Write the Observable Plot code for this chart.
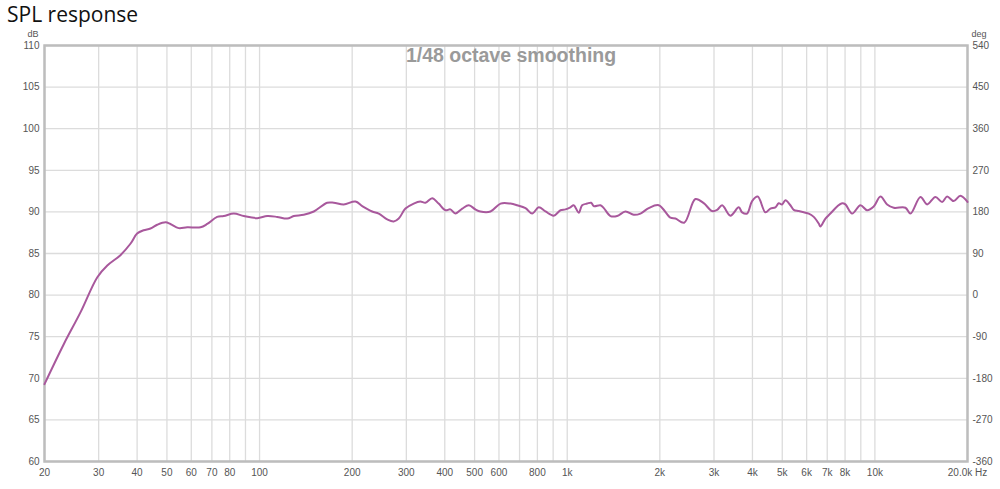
<!DOCTYPE html>
<html>
<head>
<meta charset="utf-8">
<script src="https://cdn.jsdelivr.net/npm/d3@7"></script>
<script src="https://cdn.jsdelivr.net/npm/@observablehq/plot@0.6"></script>
<style>
  body { margin: 0; background: #fff; }
  #title { font-family: "Open Sans", "Liberation Sans", sans-serif; font-size: 21px; color: #111; height: 28px; line-height: 28px; padding-left: 7px; }
  svg { display: block; }
</style>
</head>
<body>
<div id="title">SPL response</div>
<div id="chart"></div>
<script>
const freqHz = [20, 23.1, 26.2, 29.7, 32, 35.3, 38.1, 40, 42, 44.2, 46.5, 49.5, 51.3, 54.6, 58.2, 64.3, 67.6, 72.8, 76.5, 82.5, 88.9, 98.3, 105.9, 114.1, 123, 129.2, 139.2, 150.1, 165.9, 174.3, 187.8, 205, 215.6, 232.3, 244, 260, 273, 283.4,
  298, 317, 333, 346, 364, 382, 402, 417, 433, 456, 479, 503, 522, 563, 607, 654, 688, 732, 769, 808, 850, 904, 951, 987, 1024, 1050, 1090, 1118, 1161, 1196, 1220, 1282, 1315, 1382, 1453, 1546, 1645, 1730, 1840, 1984,
  2165, 2248, 2400, 2610, 2778, 2958, 3071, 3188, 3392, 3610, 3702, 3842, 3990, 4162, 4408, 4576, 4750, 4868, 4994, 5120, 5314, 5448, 5656, 5872, 6096, 6328, 6570, 6652, 6906, 7168, 7538, 7826, 8022,
  8434, 8974, 9436, 9914, 10424, 10960, 11516, 12570, 13050, 14062, 14784, 15732, 16540, 17170, 18040, 18966, 20000];
const splDb = [69.3, 74.1, 77.95, 82.15, 83.55, 84.8, 86.2, 87.4, 87.8, 88.0, 88.45, 88.75, 88.55, 88.05, 88.15, 88.15, 88.55, 89.4, 89.5, 89.8, 89.5, 89.25, 89.5, 89.4, 89.2, 89.5, 89.65, 90.05, 91.1, 91.1, 90.9, 91.25, 90.7, 90.05, 89.8, 89.1, 88.85, 89.2,
  90.4, 91.0, 91.25, 91.1, 91.65, 91.0, 90.2, 90.3, 89.8, 90.4, 90.8, 90.3, 90.05, 90.05, 91.0, 91.0, 90.8, 90.45, 89.8, 90.55, 90.05, 89.55, 90.2, 90.3, 90.55, 90.8, 89.9, 90.8, 91.0, 91.1, 90.7, 90.8, 90.45, 89.5, 89.5, 90.05, 89.65, 89.8, 90.45, 90.8,
  89.3, 89.2, 88.7, 91.55, 91.05, 90.1, 90.25, 90.8, 89.55, 90.55, 89.95, 89.8, 91.3, 91.85, 89.95, 90.4, 90.55, 91.05, 90.9, 91.4, 90.8, 90.25, 90.1, 89.95, 89.8, 89.4, 88.6, 88.25, 89.2, 89.8, 90.65, 91.05, 90.9,
  89.8, 90.8, 90.2, 90.65, 91.85, 90.9, 90.5, 90.5, 89.8, 91.8, 90.9, 91.8, 91.2, 91.85, 91.3, 91.95, 91.2];

const gridFreqs = [20, 30, 40, 50, 60, 70, 80, 90, 100, 200, 300, 400, 500, 600, 700, 800, 900, 1000,
  2000, 3000, 4000, 5000, 6000, 7000, 8000, 9000, 10000, 20000];
const freqTickValues = [20, 30, 40, 50, 60, 70, 80, 100, 200, 300, 400, 500, 600, 800, 1000,
  2000, 3000, 4000, 5000, 6000, 7000, 8000, 10000, 20000];
const freqTickLabels = ["20", "30", "40", "50", "60", "70", "80", "100", "200", "300", "400", "500", "600", "800", "1k",
  "2k", "3k", "4k", "5k", "6k", "7k", "8k", "10k", "20.0k Hz"];
const dbTicks = [60, 65, 70, 75, 80, 85, 90, 95, 100, 105, 110];
const degTickLabels = [-360, -270, -180, -90, 0, 90, 180, 270, 360, 450, 540];

const data = freqHz.map((f, i) => ({f, db: splDb[i]}));
const xTicks = freqTickValues.map((v, i) => ({v, label: freqTickLabels[i]}));
const fmtDeg = d => String(degTickLabels[dbTicks.indexOf(d)]);

const chart = Plot.plot({
  width: 1000,
  height: 461,
  marginLeft: 44,
  marginRight: 33,
  marginTop: 17,
  marginBottom: 28,
  style: {fontFamily: "'Liberation Sans', Arial, sans-serif", fontSize: "10px", color: "#555", background: "#fff"},
  x: {type: "log", domain: [20, 20000], axis: null},
  y: {domain: [60, 110], axis: null},
  marks: [
    Plot.ruleX(gridFreqs, {stroke: "#dcdcdc", strokeWidth: 1.3}),
    Plot.ruleY(dbTicks, {stroke: "#dcdcdc", strokeWidth: 1.3}),
    Plot.frame({stroke: "#bdbdbd", strokeWidth: 2.5}),
    Plot.text(xTicks, {x: "v", text: "label", frameAnchor: "bottom", lineAnchor: "top", dy: 7, fill: "#555"}),
    Plot.axisY(dbTicks, {anchor: "left", tickSize: 0, tickPadding: 5, label: null, fill: "#555"}),
    Plot.axisY(dbTicks, {anchor: "right", tickFormat: fmtDeg, tickSize: 0, tickPadding: 5, label: null, fill: "#555"}),
    Plot.text(["dB"], {frameAnchor: "top-left", lineAnchor: "top", dx: -17, dy: -15, fontSize: 9, fill: "#555"}),
    Plot.text(["deg"], {frameAnchor: "top-right", lineAnchor: "top", dx: 19, dy: -15, fontSize: 9, fill: "#555"}),
    Plot.text(["1/48 octave smoothing"], {frameAnchor: "top", dx: 5, dy: 3, fontSize: 19.5, fontWeight: "bold", fill: "#9a9a9a"}),
    Plot.line(data, {x: "f", y: "db", stroke: "#a8589c", strokeWidth: 2, curve: "catmull-rom"})
  ]
});
document.getElementById("chart").append(chart);
</script>
</body>
</html>
